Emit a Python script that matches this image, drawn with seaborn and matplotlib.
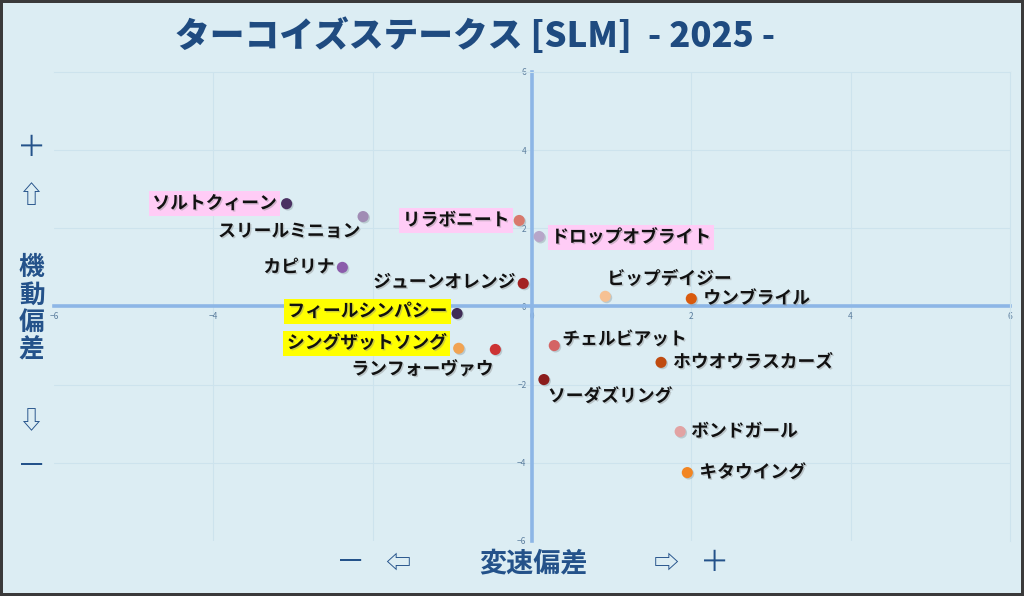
import pandas as pd
import seaborn as sns
import matplotlib.pyplot as plt
import matplotlib.patheffects as pe

# データ（変速偏差 x, 機動偏差 y）
names = ['ソルトクィーン', 'スリールミニョン', 'リラボニート', 'ドロップオブライト',
         'カピリナ', 'ジューンオレンジ', 'ビップデイジー', 'ウンブライル',
         'フィールシンパシー', 'シングザットソング', 'ランフォーヴァウ', 'チェルビアット',
         'ホウオウラスカーズ', 'ソーダズリング', 'ボンドガール', 'キタウイング']
x_vals = [-3.08, -2.12, -0.16, 0.09, -2.38, -0.11, 0.92, 2.00,
          -0.94, -0.92, -0.46, 0.28, 1.62, 0.15, 1.86, 1.95]
y_vals = [2.63, 2.30, 2.20, 1.79, 1.00, 0.59, 0.26, 0.20,
          -0.18, -1.07, -1.10, -1.00, -1.43, -1.87, -3.20, -4.25]
dot_colors = ['#4b3263', '#a08cb4', '#d8796c', '#b7a6c9', '#8b5cab', '#a32222',
              '#f6c193', '#d95a0e', '#3f2c56', '#f1a352', '#cc3333', '#d46464',
              '#c04b10', '#8b1c1c', '#e2a3a3', '#f28522']
x_ticks = [-6, -4, -2, 0, 2, 4, 6]
y_ticks = [-6, -4, -2, 0, 2, 4, 6]

# ラベルの配置（ピクセルオフセット, 揃え, 背景色）
label_pos = {
    'ソルトクィーン': (-10, 0, 'right', '#ffccf6'),
    'スリールミニョン': (-3, -15, 'right', None),
    'リラボニート': (-10, 0, 'right', '#ffccf6'),
    'ドロップオブライト': (12, -1, 'left', '#ffccf6'),
    'カピリナ': (-8, 0, 'right', None),
    'ジューンオレンジ': (-8, 1, 'right', None),
    'ビップデイジー': (2, 17, 'left', None),
    'ウンブライル': (12, 0, 'left', None),
    'フィールシンパシー': (-10, 2, 'right', '#ffff00'),
    'シングザットソング': (-12, 5, 'right', '#ffff00'),
    'ランフォーヴァウ': (-2, -20, 'right', None),
    'チェルビアット': (8, 6, 'left', None),
    'ホウオウラスカーズ': (12, 0, 'left', None),
    'ソーダズリング': (4, -17, 'left', None),
    'ボンドガール': (11, 0, 'left', None),
    'キタウイング': (12, 0, 'left', None),
}

df = pd.DataFrame({'name': names, 'x': x_vals, 'y': y_vals})

sns.set_theme(style='white')
plt.rcParams['font.family'] = ['Noto Sans CJK JP', 'DejaVu Sans']

bg = '#dcedf3'
navy = '#24528a'
grid_c = '#cde3ed'
fig = plt.figure(figsize=(10.24, 5.96), dpi=100)
fig.patch.set_facecolor(bg)
fig.patch.set_edgecolor('#3a3a3a')
fig.patch.set_linewidth(3)
ax = fig.add_axes([0.0527, 0.0923, 0.9336, 0.787])
ax.set_facecolor(bg)

# グリッド
for v in [-4, -2, 2, 4]:
    ax.axvline(v, color=grid_c, lw=0.8, zorder=0)
    ax.axhline(v, color=grid_c, lw=0.8, zorder=0)

shadow = [pe.SimplePatchShadow(offset=(1, -1), shadow_rgbFace='#7a8a90', alpha=0.35), pe.Normal()]
sc = sns.scatterplot(data=df, x='x', y='y', hue='name', palette=dict(zip(names, dot_colors)),
                     s=64, edgecolor='none', legend=False, ax=ax, zorder=3)
for coll in ax.collections:
    coll.set_path_effects(shadow)

for n, xv, yv in zip(names, x_vals, y_vals):
    dx, dy, ha, hl = label_pos[n]
    bbox = dict(facecolor=hl, edgecolor='none', pad=2.5) if hl else None
    ax.annotate(n, (xv, yv), xytext=(dx, dy), textcoords='offset pixels',
                ha=ha, va='center', fontsize=12.8, fontweight='bold',
                color='#111111', bbox=bbox, zorder=4,
                path_effects=[pe.SimplePatchShadow(offset=(1, -1), shadow_rgbFace='#888888', alpha=0.4),
                              pe.Normal()])

ax.set_xlim(-6, 6)
ax.set_ylim(-6, 6)
ax.set_xticks(x_ticks)
ax.set_yticks(y_ticks)
ax.spines['left'].set_position('zero')
ax.spines['bottom'].set_position('zero')
for s in ['right', 'top']:
    ax.spines[s].set_color(grid_c)
    ax.spines[s].set_linewidth(0.8)
for s in ['left', 'bottom']:
    ax.spines[s].set_color('#8db6e6')
    ax.spines[s].set_linewidth(2.6)
    ax.spines[s].set_zorder(1)
ax.tick_params(length=0, labelsize=6, labelcolor='#5d7f9f', pad=4)
ax.set_xlabel('')
ax.set_ylabel('')

# タイトル
fig.text(0.464, 0.94, 'ターコイズステークス [SLM]  - 2025 -', ha='center', va='center',
         fontsize=25, fontweight='heavy', color='#1f4b80')

# 軸ラベル
fig.text(0.031, 0.752, '＋', ha='center', va='center', fontsize=21, color=navy)
fig.text(0.030, 0.671, '⇧', ha='center', va='center', fontsize=18, color=navy)
fig.text(0.031, 0.482, '機\n動\n偏\n差', ha='center', va='center', fontsize=18.5,
         fontweight='bold', color=navy, linespacing=1.02)
fig.text(0.030, 0.291, '⇩', ha='center', va='center', fontsize=18, color=navy)
fig.text(0.031, 0.216, '－', ha='center', va='center', fontsize=21, color=navy)

fig.text(0.342, 0.055, '－', ha='center', va='center', fontsize=21, color=navy)
fig.text(0.388, 0.055, '⇦', ha='center', va='center', fontsize=18, color=navy)
fig.text(0.521, 0.055, '変速偏差', ha='center', va='center', fontsize=19.5,
         fontweight='bold', color=navy)
fig.text(0.651, 0.055, '⇨', ha='center', va='center', fontsize=18, color=navy)
fig.text(0.698, 0.055, '＋', ha='center', va='center', fontsize=21, color=navy)

plt.savefig('out.png', dpi=100, facecolor=fig.get_facecolor(), edgecolor=fig.get_edgecolor())
